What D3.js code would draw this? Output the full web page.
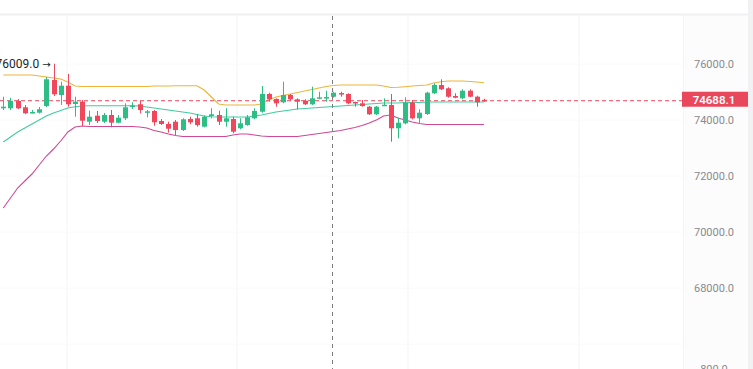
<!DOCTYPE html>
<html>
<head>
<meta charset="utf-8">
<script src="https://cdn.jsdelivr.net/npm/d3@7"></script>
<style>
  html, body { margin: 0; padding: 0; background: #fff; overflow: hidden; }
  svg { display: block; font-family: Roboto, "Open Sans", sans-serif; }
</style>
</head>
<body>
<div id="chart"></div>
<script>
// candles, oldest first
const opens = [74418, 74418, 74679, 74454, 74261, 74261, 74500, 75429, 74893, 75225,
  74571, 74654, 73939, 74154, 73939, 74179, 73904, 74061, 74500, 74561,
  74290, 74321, 73964, 73857, 73939, 73643, 74036, 74061, 73761, 74143,
  74179, 73939, 74036, 73704, 73821, 74061, 74296, 74929, 74750, 74632,
  74893, 74739, 74689, 74561, 74800, 74800, 74832, 74961, 74929, 74643,
  74596, 74475, 74204, 74525, 74536, 73704, 73882, 74618, 74061, 74214,
  74954, 75250, 75132, 74857, 74775, 75046, 74832, 74720];
const highs = [74832, 74796, 74750, 74536, 74357, 74464, 75536, 76009, 75368, 75643,
  74832, 74714, 74332, 74321, 74250, 74357, 74179, 74596, 74632, 74689,
  74357, 74357, 74036, 73939, 74000, 74061, 74118, 74214, 74168, 74418,
  74332, 74418, 74118, 74061, 74179, 74418, 75214, 74975, 74775, 75368,
  74929, 74775, 74739, 75190, 75011, 75046, 75011, 75011, 74954, 74654,
  74714, 74500, 74500, 74775, 74929, 74082, 74811, 74714, 74382, 75011,
  75311, 75454, 75168, 74954, 75096, 75096, 74868, 74760];
const lows = [74357, 74357, 74393, 74214, 74240, 74232, 74464, 74857, 74536, 74475,
  74118, 73786, 73821, 73893, 73893, 73739, 73882, 74000, 74393, 74239,
  74096, 73796, 73821, 73546, 73464, 73607, 73846, 73761, 73739, 74061,
  73821, 73761, 73525, 73668, 73796, 74025, 74261, 74654, 74475, 74596,
  74689, 74382, 74536, 74536, 74739, 74654, 74796, 74832, 74561, 74475,
  74475, 74179, 74179, 74500, 73225, 73346, 73846, 74025, 73882, 74179,
  74929, 75071, 74796, 74775, 74739, 74811, 74475, 74650];
const closes = [74475, 74689, 74418, 74239, 74285, 74382, 75454, 74918, 75225, 74561,
  74654, 73975, 74118, 73964, 74179, 73904, 74082, 74454, 74520, 74357,
  74310, 73918, 73857, 73689, 73643, 74025, 73918, 73821, 74118, 74204,
  73939, 74061, 73582, 73882, 74096, 74321, 74929, 74739, 74596, 74893,
  74739, 74654, 74561, 74775, 74811, 74820, 74975, 74940, 74596, 74607,
  74500, 74204, 74475, 74545, 73704, 73904, 74618, 74061, 74261, 74975,
  75250, 75096, 74832, 74796, 75046, 74832, 74632, 74688.1];

// bollinger bands
const upperBand = [75607, 75607, 75607, 75607, 75607, 75571, 75536, 75500, 75464, 75357,
  75214, 75196, 75196, 75196, 75196, 75196, 75196, 75196, 75196, 75196,
  75196, 75214, 75214, 75214, 75225, 75225, 75225, 75225, 75071, 74821,
  74571, 74536, 74536, 74536, 74536, 74536, 74571, 74714, 74821, 74875,
  74929, 74982, 75036, 75089, 75143, 75196, 75232, 75250, 75250, 75250,
  75250, 75250, 75250, 75214, 75161, 75168, 75189, 75214, 75232, 75250,
  75321, 75368, 75393, 75393, 75393, 75375, 75357, 75332];
const middleBand = [73214, 73393, 73571, 73714, 73857, 74000, 74143, 74250, 74339, 74429,
  74475, 74500, 74511, 74511, 74511, 74511, 74511, 74511, 74511, 74500,
  74464, 74429, 74393, 74357, 74321, 74286, 74250, 74196, 74143, 74118,
  74107, 74107, 74107, 74107, 74107, 74143, 74179, 74232, 74286, 74321,
  74357, 74393, 74411, 74429, 74446, 74464, 74482, 74500, 74518, 74536,
  74554, 74571, 74589, 74607, 74607, 74607, 74625, 74625, 74625, 74643,
  74643, 74643, 74643, 74643, 74643, 74643, 74643, 74643];
const lowerBand = [70857, 71214, 71571, 71821, 72071, 72393, 72714, 72964, 73250, 73571,
  73750, 73786, 73768, 73768, 73768, 73768, 73768, 73768, 73768, 73750,
  73714, 73625, 73571, 73500, 73446, 73411, 73411, 73411, 73411, 73411,
  73411, 73411, 73464, 73500, 73500, 73464, 73429, 73411, 73411, 73411,
  73411, 73411, 73446, 73482, 73518, 73554, 73589, 73625, 73679, 73732,
  73804, 73893, 74000, 74143, 74179, 74071, 74000, 73929, 73875, 73839,
  73839, 73839, 73839, 73839, 73839, 73839, 73839, 73839];

const priceTicks = [68000, 70000, 72000, 74000, 76000];
const volumeTicks = [800];
const lastPrice = 74688.1;
const maxPrice = 76009;
const maxIndex = 7;
const crossIndex = 46;

const W = 753, H = 369;
const GREEN = '#2ebd85', RED = '#f0475c';

const svg = d3.select('#chart').append('svg')
  .attr('width', W).attr('height', H);

svg.append('rect').attr('width', W).attr('height', H).attr('fill', '#fff');

const n = closes.length;
const x = d3.scaleLinear().domain([0, n - 1]).range([3.3, 484]);
const y = d3.scaleLinear().domain([68000, 76000]).range([288, 64]);
const yVol = d3.scaleLinear().domain([0, 800]).range([420, 369]);

// chrome: axis column, scroll strip, top rule
svg.append('rect').attr('x', 683).attr('y', 15).attr('width', 65).attr('height', H - 15)
  .attr('fill', '#fcfcfd');
svg.append('line').attr('x1', 683.5).attr('x2', 683.5).attr('y1', 15).attr('y2', H)
  .attr('stroke', '#f4f4f6');
svg.append('rect').attr('x', 748).attr('y', 0).attr('width', 5).attr('height', H)
  .attr('fill', '#f1f1f4');
svg.append('line').attr('x1', 0).attr('x2', 748).attr('y1', 14.5).attr('y2', 14.5)
  .attr('stroke', '#f0f0f2').attr('stroke-width', 2);

// grid (very faint)
const gridX = [67, 237, 408, 579];
svg.append('g').selectAll('line').data(gridX).enter().append('line')
  .attr('x1', d => d).attr('x2', d => d).attr('y1', 16).attr('y2', H)
  .attr('stroke', '#f9f9fa').attr('stroke-width', 2);
svg.append('g').selectAll('line').data(priceTicks.concat([66000])).enter().append('line')
  .attr('x1', 0).attr('x2', 683).attr('y1', d => y(d)).attr('y2', d => y(d))
  .attr('stroke', '#fafafb').attr('stroke-width', 1);

// bands
const bands = [
  { vals: upperBand, color: '#eeb43a' },
  { vals: middleBand, color: '#42cc9c' },
  { vals: lowerBand, color: '#cf4896' }
];
const line = d3.line().x((d, i) => x(i)).y(d => y(d));
bands.forEach(b => {
  svg.append('path').datum(b.vals)
    .attr('d', line).attr('fill', 'none')
    .attr('stroke', b.color).attr('stroke-width', 1.1);
});

// last price line
svg.append('line')
  .attr('x1', 0).attr('x2', 683).attr('y1', y(lastPrice)).attr('y2', y(lastPrice))
  .attr('stroke', RED).attr('stroke-width', 1).attr('stroke-dasharray', '4,3');

// candles
const candles = svg.append('g').selectAll('g').data(d3.range(n)).enter().append('g');
candles.append('line')
  .attr('x1', i => Math.round(x(i)) + 0.5).attr('x2', i => Math.round(x(i)) + 0.5)
  .attr('y1', i => y(highs[i])).attr('y2', i => y(lows[i]))
  .attr('stroke', i => closes[i] >= opens[i] ? GREEN : RED);
candles.append('rect')
  .attr('x', i => Math.round(x(i)) - 2)
  .attr('width', 5)
  .attr('y', i => y(Math.max(opens[i], closes[i])))
  .attr('height', i => Math.max(1.5, Math.abs(y(opens[i]) - y(closes[i]))))
  .attr('fill', i => closes[i] >= opens[i] ? GREEN : RED);

// crosshair
svg.append('line')
  .attr('x1', Math.round(x(crossIndex)) - 0.5).attr('x2', Math.round(x(crossIndex)) - 0.5)
  .attr('y1', 16).attr('y2', H)
  .attr('stroke', '#7d7d80').attr('stroke-dasharray', '4,4');

// max marker
const maxLabel = svg.append('text')
  .attr('x', x(maxIndex) - 3).attr('y', y(maxPrice) + 4)
  .attr('text-anchor', 'end')
  .attr('font-size', 12).attr('fill', '#1e1e1e');
maxLabel.append('tspan').text(d3.format('.1f')(maxPrice) + ' ');
maxLabel.append('tspan').attr('font-family', 'DejaVu Sans').attr('font-size', 10).text('\u2192');

// right price axis
const axis = svg.append('g').attr('transform', 'translate(714,0)')
  .call(d3.axisRight(y).tickValues(priceTicks).tickFormat(d3.format('.1f')).tickSize(0));
axis.select('.domain').remove();
axis.selectAll('text')
  .attr('x', 0).attr('text-anchor', 'middle')
  .attr('font-size', 11).attr('fill', '#8a8a8e')
  .attr('font-family', 'Roboto, sans-serif');

svg.append('g').selectAll('text').data(volumeTicks).enter().append('text')
  .attr('x', 714).attr('y', d => yVol(d) + 4).attr('text-anchor', 'middle')
  .attr('font-size', 11).attr('fill', '#8a8a8e')
  .text(d => d3.format('.1f')(d));

// last price tag
const tagY = y(lastPrice);
svg.append('rect')
  .attr('x', 682).attr('y', tagY - 9).attr('width', 66).attr('height', 15)
  .attr('fill', '#e9485c');
svg.append('text')
  .attr('x', 714).attr('y', tagY + 3)
  .attr('text-anchor', 'middle')
  .attr('font-size', 11.5).attr('font-weight', 600).attr('fill', '#fff')
  .text(d3.format('.1f')(lastPrice));
</script>
</body>
</html>
